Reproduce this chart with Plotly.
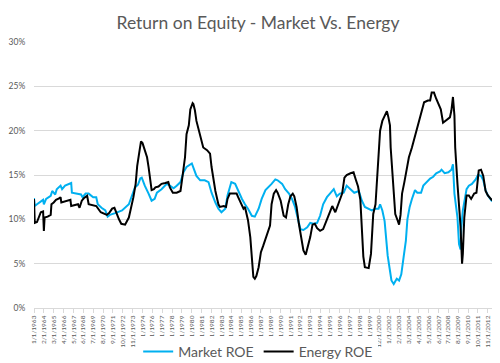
import plotly.graph_objects as go
import pandas as pd

# Month offsets from Jan 1963 and ROE values (%)
market_month = [0, 1, 4, 9, 12, 13, 16, 22, 24, 28, 30, 35, 37, 41, 47, 49, 50, 57, 62, 64, 68, 72, 78, 82, 84, 89, 94, 97, 100, 107,
                116, 125, 129, 133, 137, 140, 142, 146, 151, 155, 159, 162, 168, 175, 179, 184, 188, 193, 197, 201, 208, 210, 214, 219,
                225, 230, 234, 239, 243, 247, 252, 255, 260, 265, 269, 274, 278, 282, 287, 291, 296, 300, 305, 309, 313, 318, 321, 327,
                331, 336, 340, 344, 348, 351, 355, 360, 364, 368, 373, 377, 381, 386, 390, 395, 399, 403, 408, 412, 417, 422, 428, 432,
                436, 441, 445, 450, 454, 456, 459, 462, 464, 466, 469, 471, 474, 478, 481, 484, 487, 490, 492, 495, 498, 502, 505, 510,
                513, 517, 522, 526, 530, 535, 537, 541, 546, 550, 552, 554, 555, 558, 560, 562, 563, 565, 570, 573, 577, 582, 585, 589,
                592, 595, 598, 603, 607, 611, 615, 618]
market_roe = [12.4, 11.5, 11.7, 12.0, 12.2, 11.7, 12.3, 12.65, 13.2, 12.8, 13.4, 13.8, 13.4, 13.8, 14.0, 14.1, 13.0, 12.9, 12.8, 12.5,
              12.9, 12.9, 12.5, 12.5, 11.7, 11.3, 11.0, 10.3, 10.5, 10.7, 11.0, 11.7, 12.65, 13.6, 13.9, 14.6, 14.7, 13.8, 12.9, 12.1,
              12.3, 13.0, 13.4, 14.0, 13.8, 13.5, 13.8, 14.2, 15.3, 15.9, 16.3, 15.9, 14.9, 14.4, 14.4, 14.2, 13.0, 11.9, 11.2, 10.8,
              11.2, 12.7, 14.2, 14.0, 13.2, 12.3, 11.7, 11.2, 10.4, 10.3, 11.2, 12.3, 13.3, 13.6, 14.0, 14.5, 14.4, 14.0, 13.4, 12.9,
              12.3, 11.4, 10.0, 8.9, 8.8, 9.1, 9.6, 9.5, 9.6, 10.4, 11.7, 12.5, 12.9, 13.4, 12.6, 12.9, 13.0, 13.8, 13.4, 13.0, 13.2,
              12.1, 11.4, 11.2, 11.0, 11.2, 11.2, 11.7, 11.0, 9.8, 7.8, 5.9, 4.2, 3.1, 2.7, 3.3, 3.1, 3.8, 5.7, 7.6, 10.0, 11.4, 12.3,
              13.3, 13.0, 13.0, 13.8, 14.2, 14.6, 14.8, 15.2, 15.4, 15.6, 15.2, 15.3, 15.6, 16.2, 12.9, 12.1, 10.2, 7.2, 6.6, 9.0, 11.0,
              13.4, 13.8, 14.0, 14.5, 15.0, 14.9, 14.4, 13.3, 12.7, 12.1, 12.1, 12.5, 12.7, 12.7]

energy_month = [0, 1, 4, 7, 9, 12, 13, 14, 18, 22, 23, 26, 29, 33, 35, 36, 44, 48, 49, 58, 60, 63, 66, 70, 72, 82, 88, 92, 96, 99, 103,
                106, 109, 112, 115, 120, 125, 128, 131, 134, 136, 139, 141, 143, 146, 149, 151, 153, 155, 158, 160, 164, 168, 173, 177,
                179, 183, 188, 193, 195, 197, 199, 201, 204, 206, 209, 210, 212, 214, 217, 220, 223, 228, 232, 234, 236, 239, 243, 245,
                250, 253, 255, 258, 263, 267, 269, 273, 276, 278, 282, 285, 287, 289, 291, 293, 296, 299, 302, 305, 309, 311, 313, 316,
                319, 321, 325, 327, 329, 332, 335, 338, 341, 343, 346, 349, 352, 355, 358, 361, 364, 367, 370, 373, 377, 381, 386, 390,
                393, 397, 400, 403, 406, 409, 412, 417, 421, 424, 427, 430, 432, 434, 436, 441, 444, 447, 450, 452, 454, 456, 459, 462,
                465, 467, 469, 470, 472, 474, 476, 479, 481, 483, 485, 488, 491, 494, 498, 501, 504, 507, 511, 514, 519, 522, 524, 527,
                530, 533, 536, 539, 544, 548, 550, 552, 554, 555, 558, 560, 562, 564, 565, 567, 570, 573, 576, 580, 583, 586, 589, 592,
                595, 598, 603, 606, 609, 611, 614, 616, 618]
energy_roe = [12.3, 9.6, 9.7, 10.5, 10.8, 10.9, 8.7, 10.2, 10.3, 10.5, 11.7, 11.9, 12.2, 12.35, 12.5, 11.9, 12.1, 12.2, 11.5, 11.7, 11.3,
              12.1, 12.4, 12.65, 11.7, 11.5, 10.8, 10.6, 10.5, 10.7, 11.2, 11.3, 10.6, 10.0, 9.5, 9.4, 10.2, 11.3, 12.5, 14.0, 16.0,
              17.7, 18.8, 18.6, 17.7, 17.0, 15.9, 14.2, 13.3, 13.4, 13.6, 13.7, 14.0, 14.1, 14.2, 13.6, 13.0, 13.0, 13.2, 14.4, 15.5,
              17.0, 19.6, 20.6, 22.4, 23.1, 23.0, 22.3, 21.1, 20.0, 19.1, 18.1, 17.8, 17.4, 15.9, 14.7, 13.2, 11.7, 11.4, 11.5, 11.4,
              12.3, 12.9, 12.9, 12.9, 12.5, 11.7, 11.2, 11.4, 9.9, 8.0, 5.7, 3.5, 3.3, 3.6, 4.6, 6.3, 7.0, 7.7, 8.7, 9.3, 11.7, 12.9,
              13.3, 13.0, 12.1, 11.4, 10.4, 10.2, 11.7, 12.6, 12.9, 12.6, 11.4, 9.5, 8.0, 6.5, 6.0, 6.9, 8.0, 9.4, 9.5, 9.0, 8.7, 8.9,
              10.0, 10.8, 11.5, 10.8, 11.5, 12.1, 12.9, 14.7, 15.0, 15.2, 15.3, 14.5, 13.7, 12.2, 9.2, 5.8, 4.6, 4.5, 6.1, 10.6, 11.7,
              14.7, 16.2, 20.0, 21.1, 21.6, 22.2, 21.5, 20.6, 18.1, 15.9, 12.9, 10.6, 9.9, 9.4, 10.5, 12.9, 14.2, 15.5, 17.0, 18.1,
              19.1, 20.0, 21.1, 22.1, 23.2, 23.4, 23.4, 24.3, 24.3, 23.6, 23.0, 22.4, 20.9, 21.2, 21.5, 22.3, 23.8, 21.7, 18.1, 14.0,
              11.4, 9.2, 5.0, 6.1, 10.2, 12.7, 12.7, 12.3, 12.9, 13.0, 15.5, 15.6, 14.9, 13.2, 12.7, 12.2, 12.3, 12.1, 12.2, 11.0,
              10.6, 10.4]

tick_labels = ["1/1/1963", "2/1/1964", "3/1/1965", "4/1/1966", "5/1/1967", "6/1/1968", "7/1/1969", "8/1/1970", "9/1/1971",
               "10/1/1972", "11/1/1973", "12/1/1974", "1/1/1976", "2/1/1977", "3/1/1978", "4/1/1979", "5/1/1980", "6/1/1981",
               "7/1/1982", "8/1/1983", "9/1/1984", "10/1/1985", "11/1/1986", "12/1/1987", "1/1/1989", "2/1/1990", "3/1/1991",
               "4/1/1992", "5/1/1993", "6/1/1994", "7/1/1995", "8/1/1996", "9/1/1997", "10/1/1998", "11/1/1999", "12/1/2000",
               "1/1/2002", "2/1/2003", "3/1/2004", "4/1/2005", "5/1/2006", "6/1/2007", "7/1/2008", "8/1/2009", "9/1/2010",
               "10/1/2011", "11/1/2012", "12/1/2013"]
y_ticks = [0, 5, 10, 15, 20, 25, 30]


def to_date(m):
    return f"{1963 + m // 12}-{m % 12 + 1:02d}-01"


market_dates = [to_date(m) for m in market_month]
energy_dates = [to_date(m) for m in energy_month]
tick_vals = [pd.to_datetime(t, format="%m/%d/%Y").strftime("%Y-%m-%d") for t in tick_labels]

FONT = "Lato"
GRAY = "#595959"

fig = go.Figure()
fig.add_trace(go.Scatter(x=market_dates, y=market_roe, mode="lines", name="Market ROE",
                         line=dict(color="#00B0F0", width=2)))
fig.add_trace(go.Scatter(x=energy_dates, y=energy_roe, mode="lines", name="Energy ROE",
                         line=dict(color="#000000", width=2)))

fig.update_layout(
    width=500, height=363,
    margin=dict(l=26, r=5, t=34, b=63, autoexpand=False),
    paper_bgcolor="white", plot_bgcolor="white",
    font=dict(family=FONT, color=GRAY),
    title=dict(text="Return on Equity - Market Vs. Energy", x=0.5, xref="container", xanchor="center",
               y=1 - 15 / 363, yref="container", yanchor="middle",
               font=dict(family=FONT, size=17.5, color=GRAY)),
    showlegend=True,
    legend=dict(orientation="h", x=0.478, xanchor="center", y=-0.165, yanchor="middle",
                font=dict(family=FONT, size=14, color=GRAY), itemwidth=30),
    xaxis=dict(type="date", range=[to_date(0), to_date(618)], tickmode="array",
               tickvals=tick_vals, ticktext=tick_labels, tickangle=-90, automargin=False,
               tickfont=dict(family=FONT, size=6.5, color=GRAY),
               showgrid=False, showline=True, linecolor="#D9D9D9", linewidth=1,
               ticks="outside", ticklen=4, tickcolor="#D9D9D9", zeroline=False),
    yaxis=dict(range=[0, 30], tickmode="array", tickvals=y_ticks, automargin=False,
               ticktext=[f"{v}%" for v in y_ticks],
               tickfont=dict(family=FONT, size=8.5, color=GRAY),
               showgrid=True, gridcolor="#D9D9D9", gridwidth=1, zeroline=False,
               showline=False, ticks="outside", ticklen=6, tickcolor="rgba(0,0,0,0)"),
)

fig.write_html("out.html")
